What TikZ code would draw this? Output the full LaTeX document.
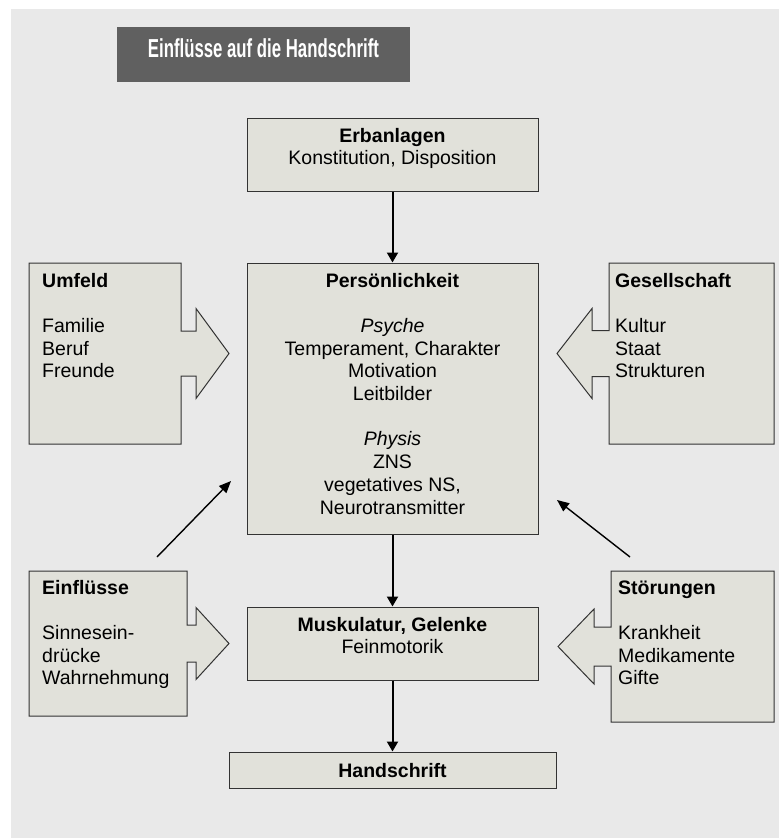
\documentclass[tikz,border=0pt]{standalone}
\usepackage{fontspec}
\setmainfont{Liberation Sans}
\usetikzlibrary{arrows.meta}
\definecolor{bggray}{HTML}{E9E9E9}
\definecolor{boxfill}{HTML}{E1E1DA}
\definecolor{boxline}{HTML}{333333}
\definecolor{titlegray}{HTML}{606060}
\begin{document}
\begin{tikzpicture}[x=1pt,y=-1pt,
  box/.style={draw=boxline, fill=boxfill, line width=1pt, rectangle, inner sep=0pt},
  callout/.style={draw=boxline, fill=boxfill, line width=1pt},
  txt/.style={inner sep=0pt, anchor=base},
  ltxt/.style={inner sep=0pt, anchor=base west},
  vflow/.style={draw=black, line width=2pt, -{Triangle[length=10pt,width=11pt]}},
  diag/.style={draw=black, line width=1.4pt, -{Triangle[length=12pt,width=10pt]}}]
\useasboundingbox (0,0) rectangle (779,838);
\fill[white] (0,0) rectangle (779,838);
\fill[bggray] (11,9) rectangle (779,838);
% title
\node[fill=titlegray, minimum width=293pt, minimum height=55pt, inner sep=0pt] (titlebox) at (263.5,54.5) {};
\node[txt, text=white] (title) at (263.5,57.5) {\scalebox{0.645}[1]{\fontsize{26}{30}\selectfont\bfseries Einflüsse auf die Handschrift}};
% central boxes
\node[box, minimum width=291pt, minimum height=73pt] (erb) at (392.5,154.5) {};
\node[box, minimum width=291pt, minimum height=271pt] (pers) at (392.5,398.5) {};
\node[box, minimum width=291pt, minimum height=73pt] (musk) at (392.5,643.5) {};
\node[box, minimum width=327pt, minimum height=36pt] (hand) at (392.5,770) {};
% callouts
\draw[callout] (29,263) -- (181,263) -- (181,331) -- (196,331) -- (196,308.5) -- (229,353.5) -- (196,398.5) -- (196,376) -- (181,376) -- (181,444) -- (29,444) -- cycle;
\draw[callout] (774,263) -- (609,263) -- (609,330.5) -- (592,330.5) -- (592,308.5) -- (557,353.5) -- (592,398.5) -- (592,376.5) -- (609,376.5) -- (609,444) -- (774,444) -- cycle;
\draw[callout] (29,571) -- (187,571) -- (187,625) -- (196,625) -- (196,607.5) -- (229,643.5) -- (196,679.5) -- (196,662) -- (187,662) -- (187,716) -- (29,716) -- cycle;
\draw[callout] (774,571) -- (611,571) -- (611,627) -- (594,627) -- (594,609) -- (558,646.5) -- (594,684) -- (594,666) -- (611,666) -- (611,722) -- (774,722) -- cycle;
% texts
\node[txt] (terb) at (392.5,142) {\parbox[t]{280pt}{\centering\fontsize{19.5}{22.7}\selectfont\textbf{Erbanlagen}\\Konstitution, Disposition}};
\node[txt] (tpers) at (392.5,287) {\parbox[t]{280pt}{\centering\fontsize{19.5}{22.7}\selectfont\textbf{Persönlichkeit}\\[22.7pt]\textit{Psyche}\\Temperament, Charakter\\Motivation\\Leitbilder\\[22.7pt]\textit{Physis}\\ZNS\\vegetatives NS,\\Neurotransmitter}};
\node[txt] (tmusk) at (392.5,631) {\parbox[t]{280pt}{\centering\fontsize{19.5}{22.7}\selectfont\textbf{Muskulatur, Gelenke}\\Feinmotorik}};
\node[txt] (thand) at (392.5,777) {\parbox[t]{280pt}{\centering\fontsize{19.5}{22.7}\selectfont\textbf{Handschrift}}};
\node[ltxt] (tumf) at (42,287) {\parbox[t]{150pt}{\raggedright\fontsize{19.5}{22.7}\selectfont\textbf{Umfeld}\\[22.7pt]Familie\\Beruf\\Freunde}};
\node[ltxt] (tges) at (615,287) {\parbox[t]{160pt}{\raggedright\fontsize{19.5}{22.7}\selectfont\textbf{Gesellschaft}\\[22.7pt]Kultur\\Staat\\Strukturen}};
\node[ltxt] (tein) at (42,594) {\parbox[t]{150pt}{\raggedright\fontsize{19.5}{22.7}\selectfont\textbf{Einflüsse}\\[22.7pt]Sinnesein-\\drücke\\Wahrnehmung}};
\node[ltxt] (tstoe) at (618,594) {\parbox[t]{160pt}{\raggedright\fontsize{19.5}{22.7}\selectfont\textbf{Störungen}\\[22.7pt]Krankheit\\Medikamente\\Gifte}};
% vertical arrows
\draw[vflow] (erb.south) -- (pers.north);
\draw[vflow] (pers.south) -- (musk.north);
\draw[vflow] (musk.south) -- (hand.north);
% diagonal arrows
\coordinate (dls) at (157,557);
\coordinate (dle) at (231,481);
\coordinate (drs) at (630,557);
\coordinate (dre) at (557,500);
\draw[diag] (dls) -- (dle);
\draw[diag] (drs) -- (dre);
\end{tikzpicture}
\end{document}
